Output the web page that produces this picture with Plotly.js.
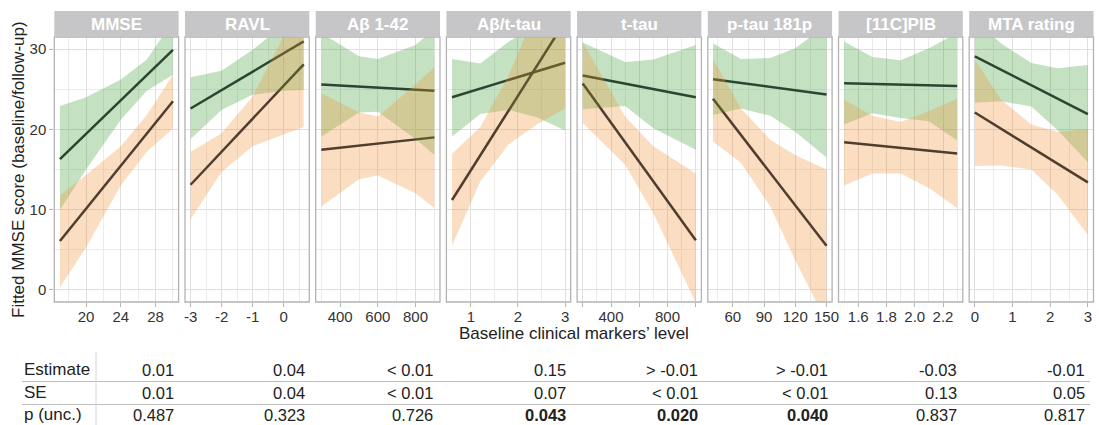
<!DOCTYPE html>
<html><head><meta charset="utf-8">
<script src="https://cdn.plot.ly/plotly-3.0.1.min.js"></script>
<style>html,body{margin:0;padding:0;background:#fff}</style>
</head><body><div id="chart" style="width:1099px;height:425px"></div>
<script>
// ---------- data ----------
const panelNames = ['MMSE','RAVL','A\u03b2 1-42','A\u03b2/t-tau','t-tau','p-tau 181p','[11C]PIB','MTA rating'];

// ribbon grid x positions per panel
const gridMMSE = [17, 20, 24, 27, 30];
const gridRAVL = [-3, -2, -1, 0, 0.65];
const gridAb42 = [300, 500, 600, 800, 900];
const gridAbTau = [0.6, 1.2, 1.8, 2.4, 3.0];
const gridTtau = [200, 500, 700, 1000];
const gridPtau = [41, 68, 96, 120, 150];
const gridPIB = [1.5, 1.7, 1.9, 2.1, 2.3];
const gridMTA = [0, 0.7, 1.5, 2.2, 3];

// green (group 1) ribbons
const greenHiMMSE = [22.9, 24.0, 26.2, 28.7, 33.5];
const greenLoMMSE = [10.0, 15.0, 21.2, 24.8, 26.8];
const greenHiRAVL = [26.5, 27.3, 29.9, 33.0, 35.0];
const greenLoRAVL = [18.8, 22.4, 24.3, 24.8, 24.9];
const greenHiAb42 = [32.0, 29.1, 28.75, 30.5, 32.5];
const greenLoAb42 = [19.1, 22.1, 22.2, 18.8, 16.8];
const greenHiAbTau = [28.75, 28.2, 30.9, 33.0, 34.0];
const greenLoAbTau = [19.1, 21.9, 22.4, 21.5, 19.85];
const greenHiTtau = [30.8, 28.4, 28.7, 30.5];
const greenLoTtau = [22.5, 22.9, 20.15, 17.45];
const greenHiPtau = [30.7, 28.75, 28.9, 30.1, 33.0];
const greenLoPtau = [21.8, 22.6, 21.7, 19.7, 16.5];
const greenHiPIB = [30.95, 29.0, 28.6, 30.1, 32.0];
const greenLoPIB = [20.6, 22.0, 21.4, 21.0, 18.6];
const greenHiMTA = [33.5, 30.7, 28.25, 27.6, 28.0];
const greenLoMTA = [23.3, 23.5, 22.85, 19.9, 15.9];

// orange (group 2) ribbons
const orangeHiMMSE = [11.8, 14.3, 17.9, 21.8, 26.8];
const orangeLoMMSE = [0.3, 5.3, 13.0, 17.2, 20.1];
const orangeHiRAVL = [17.2, 19.5, 24.1, 31.6, 36.0];
const orangeLoRAVL = [8.8, 14.7, 17.9, 19.3, 20.3];
const orangeHiAb42 = [24.5, 22.1, 21.6, 25.6, 27.8];
const orangeLoAb42 = [10.4, 13.8, 14.25, 12.05, 10.2];
const orangeHiAbTau = [16.95, 20.3, 26.7, 35.0, 38.0];
const orangeLoAbTau = [5.5, 13.5, 18.1, 20.6, 22.6];
const orangeHiTtau = [30.8, 21.6, 17.9, 14.5];
const orangeLoTtau = [20.8, 15.6, 9.55, -1.6];
const orangeHiPtau = [28.75, 22.6, 18.7, 16.8, 15.0];
const orangeLoPtau = [18.5, 15.8, 10.4, 3.7, -4.0];
const orangeHiPIB = [23.7, 21.7, 20.9, 22.3, 23.8];
const orangeLoPIB = [13.0, 14.5, 14.5, 12.7, 10.2];
const orangeHiMTA = [28.7, 23.7, 20.6, 19.7, 20.0];
const orangeLoMTA = [15.45, 15.5, 15.0, 11.85, 6.85];

// fitted lines: [value at first grid x, value at last grid x]
const greenFit = [[16.3, 29.9], [22.6, 30.95], [25.6, 24.8], [24.0, 28.3], [26.7, 24.0], [26.25, 24.35], [25.75, 25.4], [29.1, 21.9]];
const orangeFit = [[6.1, 23.5], [13.1, 28.1], [17.45, 19.0], [11.2, 33.45], [25.7, 6.2], [23.8, 5.5], [18.4, 17.0], [22.1, 13.4]];

// axis ticks
const xTickVals = [[20,24,28],[-3,-2,-1,0],[400,600,800],[1,2,3],[200,400,600,800,1000],[60,90,120,150],[1.6,1.8,2.0,2.2],[0,1,2,3]];
const xTickText = [['20','24','28'],['-3','-2','-1','0'],['400','600','800'],['1','2','3'],['','400','','800',''],['60','90','120','150'],['1.6','1.8','2.0','2.2'],['0','1','2','3']];
const yTickVals = [0, 10, 20, 30];
const yTickText = ['0', '10', '20', '30'];

// table
const tableRows = ['Estimate', 'SE', 'p (unc.)'];
const estimates = ['0.01','0.04','< 0.01','0.15','> -0.01','> -0.01','-0.03','-0.01'];
const ses = ['0.01','0.04','< 0.01','0.07','< 0.01','< 0.01','0.13','0.05'];
const pvals = ['0.487','0.323','0.726','0.043','0.020','0.040','0.837','0.817'];

// ---------- layout helpers ----------
const W = 1099, H = 425;
const grids = [gridMMSE, gridRAVL, gridAb42, gridAbTau, gridTtau, gridPtau, gridPIB, gridMTA];
const gHi = [greenHiMMSE, greenHiRAVL, greenHiAb42, greenHiAbTau, greenHiTtau, greenHiPtau, greenHiPIB, greenHiMTA];
const gLo = [greenLoMMSE, greenLoRAVL, greenLoAb42, greenLoAbTau, greenLoTtau, greenLoPtau, greenLoPIB, greenLoMTA];
const oHi = [orangeHiMMSE, orangeHiRAVL, orangeHiAb42, orangeHiAbTau, orangeHiTtau, orangeHiPtau, orangeHiPIB, orangeHiMTA];
const oLo = [orangeLoMMSE, orangeLoRAVL, orangeLoAb42, orangeLoAbTau, orangeLoTtau, orangeLoPtau, orangeLoPIB, orangeLoMTA];
const xRanges = [[16.35,30.65],[-3.18,0.83],[270,930],[0.48,3.12],[160,1040],[36,155.4],[1.46,2.34],[-0.15,3.15]];
const minorD = [2, 0.5, 100, 0.5, 100, 15, 0.1, 0.5];

const px = x => x / W;
const py = y => 1 - y / H;
const FONT = 'Liberation Sans, Arial, Helvetica, sans-serif';
const panelTop = 37, panelBot = 302, stripTop = 11;
const GREEN_FILL = 'rgba(50,155,45,0.29)';
const ORANGE_FILL = 'rgba(242,145,50,0.30)';
const GREEN_LINE = 'rgb(40,35,50)';
const ORANGE_LINE = 'rgb(10,25,45)';

const traces = [];
const layout = {
  width: W, height: H,
  margin: {l: 0, r: 0, t: 0, b: 0},
  paper_bgcolor: '#fff', plot_bgcolor: '#fff',
  showlegend: false,
  font: {family: FONT, color: '#333'},
  shapes: [], annotations: [],
  yaxis: {
    domain: [py(panelBot), py(panelTop)], range: [-1.5, 31.5], anchor: 'x',
    tickmode: 'array', tickvals: yTickVals, ticktext: yTickText,
    ticks: 'outside', ticklen: 4, tickcolor: '#b3b3b3', tickwidth: 1,
    tickfont: {size: 15, color: '#333', family: FONT},
    showgrid: true, gridcolor: '#dfdfdf', gridwidth: 1, zeroline: false, showline: false,
    minor: {dtick: 5, tick0: 0, showgrid: true, gridcolor: '#e6e6e6', gridwidth: 0.8, ticks: ''}
  }
};

for (let i = 0; i < 8; i++) {
  const ax = i === 0 ? 'x' : 'x' + (i + 1);
  const axName = i === 0 ? 'xaxis' : 'xaxis' + (i + 1);
  const left = 54.3 + 130.7 * i, right = left + 124.3;
  layout[axName] = {
    domain: [px(left), px(right)], range: xRanges[i], anchor: 'y',
    tickmode: 'array', tickvals: xTickVals[i], ticktext: xTickText[i],
    ticks: 'outside', ticklen: 4, tickcolor: '#b3b3b3', tickwidth: 1,
    ticklabelstandoff: -3,
    tickfont: {size: 15, color: '#333', family: FONT},
    showgrid: true, gridcolor: '#dfdfdf', gridwidth: 1, zeroline: false, showline: false,
    minor: {dtick: minorD[i], tick0: 0, showgrid: true, gridcolor: '#e6e6e6', gridwidth: 0.8, ticks: ''}
  };
  const xs = grids[i];
  const xEnds = [xs[0], xs[xs.length - 1]];
  // lines first (ribbons drawn over them)
  traces.push({type: 'scatter', mode: 'lines', x: xEnds, y: greenFit[i], xaxis: ax, yaxis: 'y',
    line: {color: GREEN_LINE, width: 2.5}, hoverinfo: 'skip'});
  traces.push({type: 'scatter', mode: 'lines', x: xEnds, y: orangeFit[i], xaxis: ax, yaxis: 'y',
    line: {color: ORANGE_LINE, width: 2.5}, hoverinfo: 'skip'});
  const rx = xs.concat(xs.slice().reverse());
  traces.push({type: 'scatter', mode: 'lines', x: rx, y: gLo[i].concat(gHi[i].slice().reverse()),
    xaxis: ax, yaxis: 'y', fill: 'toself', fillcolor: GREEN_FILL, line: {width: 0}, hoverinfo: 'skip'});
  traces.push({type: 'scatter', mode: 'lines', x: rx, y: oLo[i].concat(oHi[i].slice().reverse()),
    xaxis: ax, yaxis: 'y', fill: 'toself', fillcolor: ORANGE_FILL, line: {width: 0}, hoverinfo: 'skip'});

  // panel border
  layout.shapes.push({type: 'rect', xref: ax + ' domain', yref: 'y domain', x0: 0, x1: 1, y0: 0, y1: 1,
    line: {color: '#b3b3b3', width: 1.3}, fillcolor: 'rgba(0,0,0,0)', layer: 'above'});
  // strip
  layout.shapes.push({type: 'rect', xref: 'paper', yref: 'paper', x0: px(left), x1: px(right),
    y0: py(panelTop - 0.5), y1: py(stripTop), line: {width: 0}, fillcolor: '#c6c6c8', layer: 'above'});
  layout.annotations.push({xref: 'paper', yref: 'paper', x: px((left + right) / 2), y: py((stripTop + panelTop) / 2),
    text: '<b>' + panelNames[i] + '</b>', showarrow: false, xanchor: 'center', yanchor: 'middle',
    font: {size: 17, color: '#ffffff', family: FONT}});
}

// axis titles
layout.annotations.push({xref: 'paper', yref: 'paper', x: px(573.9), y: py(333), text: 'Baseline clinical markers\u2019 level',
  showarrow: false, xanchor: 'center', yanchor: 'middle', font: {size: 17, color: '#222', family: FONT}});
layout.annotations.push({xref: 'paper', yref: 'paper', x: px(18), y: py(170), text: 'Fitted MMSE score (baseline/follow-up)',
  textangle: -90, showarrow: false, xanchor: 'center', yanchor: 'middle', font: {size: 17, color: '#222', family: FONT}});

// table
const rowY = [369.5, 392.5, 414.5];
const colRight = [176, 307, 435, 568, 700, 830, 959, 1087];
const rowsData = [estimates, ses, pvals];
for (let r = 0; r < 3; r++) {
  layout.annotations.push({xref: 'paper', yref: 'paper', x: px(22), y: py(rowY[r]), text: tableRows[r],
    showarrow: false, xanchor: 'left', yanchor: 'middle', font: {size: 17, color: '#222', family: FONT}});
  for (let c = 0; c < 8; c++) {
    let t = rowsData[r][c];
    if (r === 2 && parseFloat(t) < 0.05) t = '<b>' + t + '</b>';
    layout.annotations.push({xref: 'paper', yref: 'paper', x: px(colRight[c]), y: py(rowY[r]), text: t,
      showarrow: false, xanchor: 'right', yanchor: 'middle', font: {size: 16.5, color: '#222', family: FONT}});
  }
}
layout.shapes.push({type: 'line', xref: 'paper', yref: 'paper', x0: px(22), x1: px(1090), y0: py(381.5), y1: py(381.5),
  line: {color: '#bdbdbd', width: 1.2}});
layout.shapes.push({type: 'line', xref: 'paper', yref: 'paper', x0: px(22), x1: px(1090), y0: py(404.5), y1: py(404.5),
  line: {color: '#bdbdbd', width: 1.2}});
layout.shapes.push({type: 'line', xref: 'paper', yref: 'paper', x0: px(96), x1: px(96), y0: py(352), y1: py(425),
  line: {color: '#d6d6d6', width: 1}});

Plotly.newPlot('chart', traces, layout, {staticPlot: true, displayModeBar: false});
</script>
</body></html>
